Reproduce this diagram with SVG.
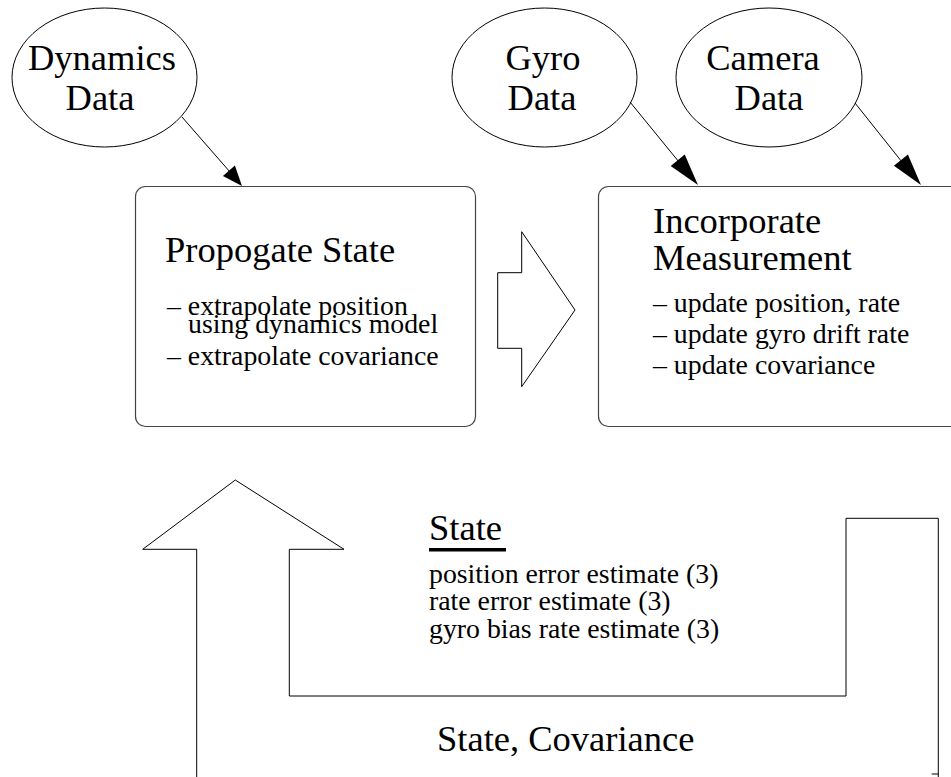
<svg xmlns="http://www.w3.org/2000/svg" width="951" height="777" viewBox="0 0 951 777">
<style>
text{font-family:"Liberation Serif","Times New Roman",serif;fill:#000}
.big{font-size:36.5px}
.small{font-size:27.8px}
.ell{fill:#fff;stroke:#000;stroke-width:1}
.box{fill:#fff;stroke:#444;stroke-width:1.2}
.ln{fill:none;stroke:#000;stroke-width:1}
.head{fill:#000;stroke:none}
.shape{fill:#fff;stroke:#000;stroke-width:1}
</style>
<rect width="951" height="777" fill="#fff"/>
<g id="dynamics-data">
<ellipse class="ell" cx="104.5" cy="77.5" rx="92.5" ry="69.5"/>
<text class="big" x="102" y="70" text-anchor="middle">Dynamics</text>
<text class="big" x="100" y="110" text-anchor="middle">Data</text>
</g>
<g id="gyro-data">
<ellipse class="ell" cx="544.5" cy="77.5" rx="92.5" ry="69.5"/>
<text class="big" x="543" y="70" text-anchor="middle">Gyro</text>
<text class="big" x="542" y="110" text-anchor="middle">Data</text>
</g>
<g id="camera-data">
<ellipse class="ell" cx="769" cy="77.5" rx="93" ry="69.5"/>
<text class="big" x="763" y="70" text-anchor="middle">Camera</text>
<text class="big" x="769" y="110" text-anchor="middle">Data</text>
</g>
<g id="propogate-state">
<rect class="box" x="135.5" y="186.5" width="340" height="240" rx="10"/>
<text class="big" x="165" y="262">Propogate State</text>
<text class="small" x="167" y="315">– extrapolate position</text>
<text class="small" x="188" y="333">using dynamics model</text>
<text class="small" x="167" y="365">– extrapolate covariance</text>
</g>
<g id="incorporate-measurement">
<rect class="box" x="598.5" y="186.5" width="400" height="240" rx="10"/>
<text class="big" x="653" y="233">Incorporate</text>
<text class="big" x="653" y="270">Measurement</text>
<text class="small" x="653" y="312">– update position, rate</text>
<text class="small" x="653" y="343">– update gyro drift rate</text>
<text class="small" x="653" y="374">– update covariance</text>
</g>
<g id="state-info">
<text class="big" x="429" y="540">State</text>
<rect x="429" y="548" width="77" height="3.5" fill="#000"/>
<text class="small" x="429" y="583">position error estimate (3)</text>
<text class="small" x="429" y="610">rate error estimate (3)</text>
<text class="small" x="429" y="638">gyro bias rate estimate (3)</text>
</g>
<g id="state-covariance">
<text class="big" x="437" y="751">State, Covariance</text>
</g>
<g id="connectors">
<line class="ln" x1="182" y1="117" x2="230" y2="172"/>
<polygon class="head" points="242,186 222.9,176.1 234.9,165.6"/>
<line class="ln" x1="630" y1="102" x2="679" y2="162"/>
<polygon class="head" points="698,185 670.7,165.9 684.7,154.5"/>
<line class="ln" x1="855" y1="103" x2="902" y2="162"/>
<polygon class="head" points="921,185 893.9,165.7 907.9,154.5"/>
<polygon class="shape" points="497.7,272.7 521.7,272.7 521.7,231.7 575,310 521.7,386.7 521.7,348.3 497.7,348.3"/>
<polyline class="ln" points="196.7,777 196.7,549.3 142.7,549.3 235.3,480 344,549.3 289.3,549.3 289.3,696 846,696 846,518.3 938.3,518.3 938.3,777"/>
<line class="ln" x1="931.7" y1="774" x2="938.3" y2="774"/>
</g>
</svg>
